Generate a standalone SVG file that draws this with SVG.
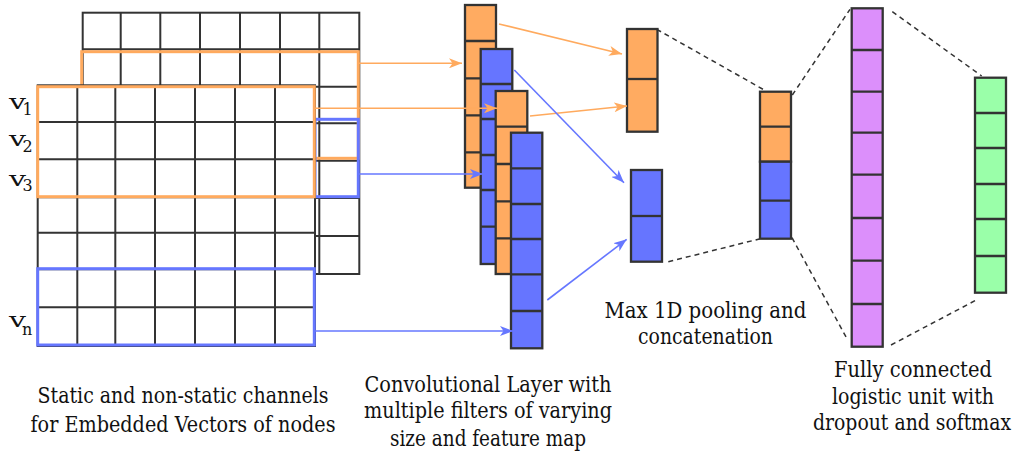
<svg xmlns="http://www.w3.org/2000/svg" width="1019" height="451" viewBox="0 0 1019 451">
  <style>
    .grid { fill: #ffffff; stroke: #333333; stroke-width: 2; }
    .gline { fill: none; stroke: #333333; stroke-width: 2; }
    .win-o { fill: none; stroke: #ffaa5e; stroke-width: 3; }
    .win-b { fill: none; stroke: #6677ff; stroke-width: 3; }
    .cell { stroke: #333333; stroke-width: 2.3; }
    .sep { fill: none; stroke: #333333; stroke-width: 2.3; }
    .o { fill: #ffab61; }
    .b { fill: #6675ff; }
    .p { fill: #dc8ffb; }
    .g { fill: #9affa9; }
    .arr-o { fill: none; stroke: #ffaa5e; stroke-width: 1.6; marker-end: url(#head-o); }
    .arr-b { fill: none; stroke: #6677ff; stroke-width: 1.6; marker-end: url(#head-b); }
    .dash { fill: none; stroke: #333333; stroke-width: 1.5; stroke-dasharray: 5 4; }
    .lbl { font-family: "DejaVu Serif", serif; font-size: 22px; fill: #111111; text-anchor: middle; }
    .v { font-family: "DejaVu Serif", serif; font-size: 20px; fill: #111111; }
    .sub { font-family: "DejaVu Serif", serif; font-size: 16px; fill: #111111; }
  </style>
  <defs>
    <marker id="head-o" markerUnits="userSpaceOnUse" markerWidth="13" markerHeight="10" refX="13" refY="5" orient="auto">
      <path d="M0,0 L13,5 L0,10 L3.5,5 Z" fill="#ffaa5e"/>
    </marker>
    <marker id="head-b" markerUnits="userSpaceOnUse" markerWidth="13" markerHeight="10" refX="13" refY="5" orient="auto">
      <path d="M0,0 L13,5 L0,10 L3.5,5 Z" fill="#6677ff"/>
    </marker>
  </defs>

  <!-- input channels: back (static) and front (non-static) embedding matrices -->
  <g id="channels">
    <g id="back-channel">
      <rect class="grid" x="82.7" y="12.7" width="276.6" height="261.3"/>
      <path class="gline" d="M120.7,12.7V274 M160.3,12.7V274 M200,12.7V274 M240,12.7V274 M280,12.7V274 M319.3,12.7V274
                             M82.7,49.3H359.3 M82.7,86.7H359.3 M82.7,123.3H359.3 M82.7,160.7H359.3 M82.7,198H359.3 M82.7,236H359.3"/>
      <rect class="win-o" x="81.7" y="51.7" width="276.6" height="106.6"/>
      <rect class="win-b" x="315" y="119.3" width="43.3" height="77.4"/>
    </g>
    <g id="front-channel">
      <rect class="grid" x="37.7" y="85.3" width="277.3" height="260.7"/>
      <path class="gline" d="M77.3,85.3V346 M115.3,85.3V346 M155,85.3V346 M195,85.3V346 M235,85.3V346 M275,85.3V346
                             M37.7,122H315 M37.7,159.3H315 M37.7,197.3H315 M37.7,232.7H315 M37.7,269.3H315 M37.7,307.3H315"/>
      <rect class="win-o" x="37.7" y="86.7" width="276.6" height="110"/>
      <rect class="win-b" x="37.7" y="268.7" width="276.6" height="76.3"/>
    </g>
    <g id="row-labels">
      <text class="v" x="9" y="108.7" textLength="17" lengthAdjust="spacingAndGlyphs">v</text>
      <text class="sub" x="22.5" y="114.7">1</text>
      <text class="v" x="9" y="146.3" textLength="17" lengthAdjust="spacingAndGlyphs">v</text>
      <text class="sub" x="22.5" y="152">2</text>
      <text class="v" x="9" y="185.7" textLength="17" lengthAdjust="spacingAndGlyphs">v</text>
      <text class="sub" x="22.5" y="190.7">3</text>
      <text class="v" x="9" y="326.7" textLength="17" lengthAdjust="spacingAndGlyphs">v</text>
      <text class="sub" x="22" y="335">n</text>
    </g>
  </g>

  <!-- convolution feature maps -->
  <g id="conv-layer">
    <g id="conv-o1">
      <rect class="cell o" x="465" y="5" width="31" height="182.7"/>
      <path class="sep" d="M465,41H496 M465,78.3H496 M465,115.3H496 M465,152.3H496"/>
    </g>
    <g id="conv-b1">
      <rect class="cell b" x="480.7" y="49" width="31.6" height="215"/>
      <path class="sep" d="M480.7,84H512.3 M480.7,119H512.3 M480.7,155H512.3 M480.7,190H512.3 M480.7,226.7H512.3"/>
    </g>
    <g id="conv-o2">
      <rect class="cell o" x="495.7" y="91" width="31.6" height="183"/>
      <path class="sep" d="M495.7,126.7H527.3 M495.7,164H527.3 M495.7,201.3H527.3 M495.7,238.3H527.3"/>
    </g>
    <g id="conv-b2">
      <rect class="cell b" x="511" y="132.7" width="31.3" height="215.6"/>
      <path class="sep" d="M511,168.3H542.3 M511,204H542.3 M511,239H542.3 M511,274.3H542.3 M511,311H542.3"/>
    </g>
  </g>

  <!-- pooled vectors -->
  <g id="pool-o">
    <rect class="cell o" x="627" y="29" width="30.5" height="102.7"/>
    <path class="sep" d="M627,79H657.5"/>
  </g>
  <g id="pool-b">
    <rect class="cell b" x="631" y="170" width="31" height="91.7"/>
    <path class="sep" d="M631,216H662"/>
  </g>

  <!-- concatenated vector -->
  <g id="concat">
    <rect class="cell o" x="760" y="91.7" width="31" height="70"/>
    <rect class="cell b" x="760" y="161.7" width="31" height="77"/>
    <path class="sep" d="M760,126.7H791 M760,200.7H791"/>
  </g>

  <!-- fully connected layer -->
  <g id="fc">
    <rect class="cell p" x="851.7" y="8.3" width="31" height="338.4"/>
    <path class="sep" d="M851.7,50H882.7 M851.7,91.7H882.7 M851.7,132.7H882.7 M851.7,174.7H882.7 M851.7,218H882.7 M851.7,260.7H882.7 M851.7,304H882.7"/>
  </g>

  <!-- softmax output -->
  <g id="softmax">
    <rect class="cell g" x="975" y="77.7" width="31" height="215"/>
    <path class="sep" d="M975,113H1006 M975,148H1006 M975,184H1006 M975,219H1006 M975,256H1006"/>
  </g>

  <!-- connectors -->
  <g id="connectors">
    <line class="arr-o" x1="359" y1="63.3" x2="462" y2="63.3"/>
    <line class="arr-o" x1="315" y1="108.3" x2="497" y2="108.3"/>
    <line class="arr-b" x1="359" y1="174" x2="483" y2="174"/>
    <line class="arr-b" x1="315" y1="331" x2="513" y2="331"/>
    <line class="arr-o" x1="499" y1="24" x2="622" y2="54"/>
    <line class="arr-o" x1="530" y1="116" x2="627" y2="106"/>
    <line class="arr-b" x1="514.3" y1="70" x2="624" y2="182.7"/>
    <line class="arr-b" x1="547.3" y1="300" x2="626.7" y2="239.3"/>
    <line class="dash" x1="656.7" y1="29.3" x2="764.3" y2="90"/>
    <line class="dash" x1="668.3" y1="261.7" x2="759.3" y2="239"/>
    <line class="dash" x1="792.3" y1="95" x2="850" y2="9.3"/>
    <line class="dash" x1="792" y1="237.7" x2="847.3" y2="339.3"/>
    <line class="dash" x1="892.3" y1="11.7" x2="981.7" y2="76"/>
    <line class="dash" x1="891" y1="345" x2="975" y2="300.7"/>
  </g>

  <!-- captions -->
  <g id="captions">
    <text class="lbl" x="183" y="402.7" textLength="291" lengthAdjust="spacingAndGlyphs">Static and non-static channels</text>
    <text class="lbl" x="183" y="431.7" textLength="305" lengthAdjust="spacingAndGlyphs">for Embedded Vectors of nodes</text>
    <text class="lbl" x="488" y="391.7" textLength="247" lengthAdjust="spacingAndGlyphs">Convolutional Layer with</text>
    <text class="lbl" x="488" y="418.3" textLength="248" lengthAdjust="spacingAndGlyphs">multiple filters of varying</text>
    <text class="lbl" x="488" y="446" textLength="196" lengthAdjust="spacingAndGlyphs">size and feature map</text>
    <text class="lbl" x="705.5" y="318.3" textLength="202" lengthAdjust="spacingAndGlyphs">Max 1D pooling and</text>
    <text class="lbl" x="705.5" y="344.3" textLength="135" lengthAdjust="spacingAndGlyphs">concatenation</text>
    <text class="lbl" x="913" y="376.7" textLength="158" lengthAdjust="spacingAndGlyphs">Fully connected</text>
    <text class="lbl" x="913" y="404" textLength="162" lengthAdjust="spacingAndGlyphs">logistic unit with</text>
    <text class="lbl" x="912" y="430" textLength="198" lengthAdjust="spacingAndGlyphs">dropout and softmax</text>
  </g>
</svg>
